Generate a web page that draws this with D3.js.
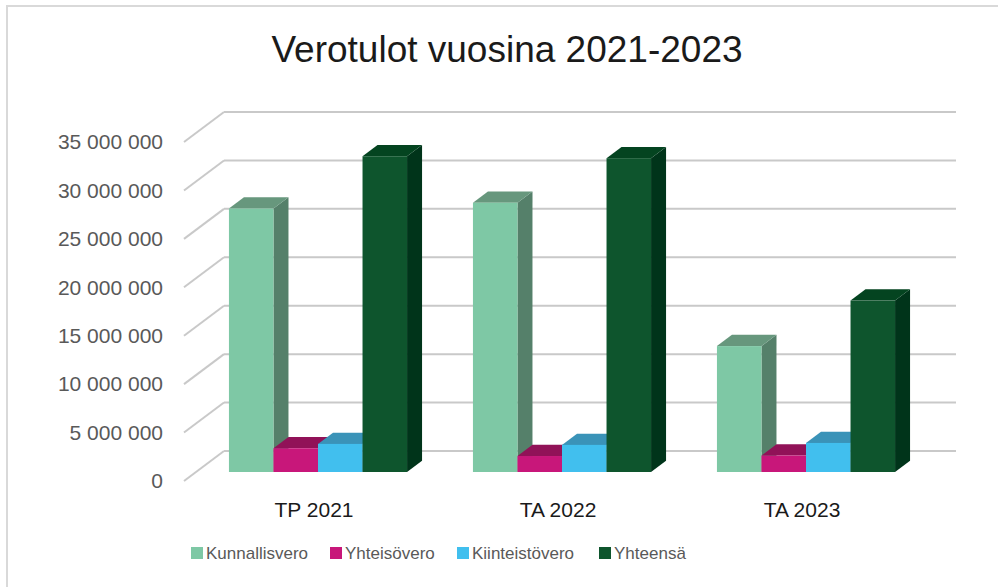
<!DOCTYPE html>
<html>
<head>
<meta charset="utf-8">
<script src="https://cdn.jsdelivr.net/npm/d3@7"></script>
<style>
  body { margin: 0; background: #fff; }
  text { font-family: "Liberation Sans", Arial, sans-serif; }
</style>
</head>
<body>
<svg id="chart" width="998" height="587"></svg>
<script>
// data
var categories = ["TP 2021", "TA 2022", "TA 2023"];
var seriesNames = ["Kunnallisvero", "Yhteisövero", "Kiinteistövero", "Yhteensä"];
var kunnallisvero = [27200000, 27800000, 13000000];
var yhteisovero = [2450000, 1650000, 1700000];
var kiinteistovero = [2900000, 2800000, 3000000];
var yhteensa = [32600000, 32400000, 17700000];
var yTicks = [0, 5000000, 10000000, 15000000, 20000000, 25000000, 30000000, 35000000];

var frontColors = ["#7ec8a5", "#c8177a", "#41bfee", "#0e552d"];
var topColors = ["#67977d", "#911258", "#3a93b8", "#044420"];
var sideColors = ["#55806a", "#7a0f4b", "#2f7b9c", "#00341a"];

var seriesValues = [kunnallisvero, yhteisovero, kiinteistovero, yhteensa];

var svg = d3.select("#chart");

// depth of the 3d box and where the bars sit inside it
var depthX = 40, depthY = -30;
var barFront = 0.3, barBack = 0.675;

var y = d3.scaleLinear().domain([0, 35000000]).range([481, 142]);
var x0 = d3.scaleBand().domain(categories).range([184, 916]).padding(0);
var x1 = d3.scaleBand().domain(seriesNames).range([0, x0.bandwidth()])
  .paddingInner(0).paddingOuter(0.74);

var fmt = function(v) { return d3.format(",")(v).replace(/,/g, " "); };

// outer border
svg.append("rect")
  .attr("x", 7).attr("y", 6).attr("width", 1000).attr("height", 600)
  .attr("fill", "none").attr("stroke", "#d9d9d9").attr("stroke-width", 2);

// title
svg.append("text")
  .attr("x", 507).attr("y", 62)
  .attr("text-anchor", "middle")
  .style("font-size", "37px").style("fill", "#1a1a1a")
  .text("Verotulot vuosina 2021-2023");

// walls: side slants and back gridlines
var grid = svg.append("g").attr("stroke", "#c9c9c9").attr("stroke-width", 2).attr("fill", "none");
yTicks.forEach(function(t) {
  grid.append("line")
    .attr("x1", x0.range()[0]).attr("y1", y(t))
    .attr("x2", x0.range()[0] + depthX).attr("y2", y(t) + depthY);
  grid.append("line")
    .attr("x1", x0.range()[0] + depthX).attr("y1", y(t) + depthY)
    .attr("x2", x0.range()[1] + depthX).attr("y2", y(t) + depthY);
});

// y labels
svg.append("g").selectAll("text")
  .data(yTicks).enter().append("text")
  .attr("x", 163).attr("y", function(d) { return y(d); })
  .attr("dy", "0.35em")
  .attr("text-anchor", "end")
  .style("font-size", "21px").style("fill", "#595959")
  .text(fmt);

// bars, drawn left to right so later ones cover earlier sides
var fx = depthX * barFront, fy = depthY * barFront;
var bx = depthX * (barBack - barFront), by = depthY * (barBack - barFront);
var bars = svg.append("g");
categories.forEach(function(c, ci) {
  seriesNames.forEach(function(s, si) {
    var v = seriesValues[si][ci];
    var xl = x0(c) + x1(s) + fx;
    var xr = xl + x1.bandwidth();
    var yt = y(v) + fy;
    var yb = y(0) + fy;
    var g = bars.append("g");
    g.append("path")
      .attr("d", "M" + xr + "," + yt + "L" + (xr + bx) + "," + (yt + by) +
        "L" + (xr + bx) + "," + (yb + by) + "L" + xr + "," + yb + "Z")
      .attr("fill", sideColors[si]);
    g.append("path")
      .attr("d", "M" + xl + "," + yt + "L" + (xl + bx) + "," + (yt + by) +
        "L" + (xr + bx) + "," + (yt + by) + "L" + xr + "," + yt + "Z")
      .attr("fill", topColors[si]);
    g.append("rect")
      .attr("x", xl).attr("y", yt)
      .attr("width", x1.bandwidth()).attr("height", yb - yt)
      .attr("fill", frontColors[si]);
  });
});

// category labels
svg.append("g").selectAll("text")
  .data(categories).enter().append("text")
  .attr("x", function(d) { return x0(d) + x0.bandwidth() / 2 + 8; })
  .attr("y", 517)
  .attr("text-anchor", "middle")
  .style("font-size", "21px").style("fill", "#1a1a1a")
  .text(function(d) { return d; });

// legend
var legendX = [191, 330, 457, 599];
var legend = svg.append("g").selectAll("g")
  .data(seriesNames).enter().append("g")
  .attr("transform", function(d, i) { return "translate(" + legendX[i] + ",553)"; });
legend.append("rect")
  .attr("x", 0).attr("y", -6).attr("width", 12).attr("height", 12)
  .attr("fill", function(d, i) { return frontColors[i]; });
legend.append("text")
  .attr("x", 15).attr("dy", "0.35em")
  .style("font-size", "17px").style("fill", "#595959")
  .text(function(d) { return d; });
</script>
</body>
</html>
